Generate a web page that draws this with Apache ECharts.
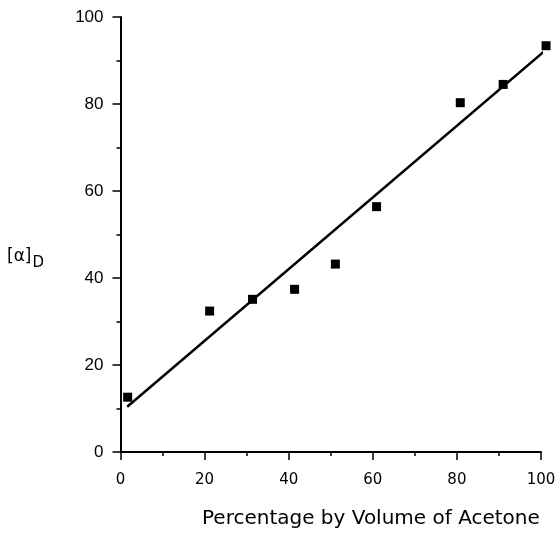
<!DOCTYPE html>
<html>
<head>
<meta charset="utf-8">
<script src="https://cdn.jsdelivr.net/npm/echarts@6/dist/echarts.min.js"></script>
<style>html,body{margin:0;padding:0;background:#fff}#c{width:559px;height:534px}</style>
</head>
<body>
<div id="c"></div>
<script>
const xValues = [1.7, 21.2, 31.4, 41.4, 51.1, 60.9, 80.8, 91.0, 101.2];
const yValues = [12.6, 32.4, 35.1, 37.4, 43.2, 56.4, 80.3, 84.5, 93.4];
const fitX = [1.6, 101.7];
const fitY = [10.4, 92.9];
const xTicks = [0, 20, 40, 60, 80, 100];
const yTicks = [0, 20, 40, 60, 80, 100];
const xTitle = 'Percentage by Volume of Acetone';

const chart = echarts.init(document.getElementById('c'));
const pts = xValues.map((x, i) => [x, yValues[i]]);
const fit = fitX.map((x, i) => [x, fitY[i]]);
const axisCommon = {
  axisLine: {show: true, lineStyle: {color: '#000', width: 2}},
  axisTick: {show: true, length: 8, lineStyle: {color: '#000', width: 1.5}},
  minorTick: {show: true, splitNumber: 2, length: 4, lineStyle: {color: '#000', width: 1.5}},
  splitLine: {show: false},
  minorSplitLine: {show: false}
};
chart.setOption({
  animation: false,
  backgroundColor: '#fff',
  grid: {left: 120.5, right: 18, top: 17, bottom: 82},
  xAxis: Object.assign({
    type: 'value', min: xTicks[0], max: xTicks[xTicks.length - 1], interval: 20,
    axisLabel: {margin: 21, color: '#000', fontSize: 15, fontFamily: 'DejaVu Sans'}
  }, axisCommon),
  yAxis: Object.assign({
    type: 'value', min: yTicks[0], max: yTicks[yTicks.length - 1], interval: 20,
    axisLabel: {margin: 17, color: '#000', fontSize: 17, fontFamily: 'Liberation Sans'}
  }, axisCommon),
  graphic: [
    {type: 'text', left: 202, top: 509,
      style: {text: xTitle, fill: '#000', font: '20px "DejaVu Sans"'}},
    {type: 'text', left: 7, top: 246,
      style: {text: '{a|[α]}{d|D}', fill: '#000',
        rich: {a: {fontSize: 17, fontFamily: 'DejaVu Sans', verticalAlign: 'top', lineHeight: 20},
               d: {fontSize: 15, fontFamily: 'DejaVu Sans', padding: [10, 0, 0, 1], lineHeight: 20}}}}
  ],
  series: [
    {type: 'line', data: fit, symbol: 'none', lineStyle: {color: '#000', width: 2.5}, clip: false, z: 2},
    {type: 'scatter', data: pts, symbol: 'rect', symbolSize: 9, itemStyle: {color: '#000', opacity: 1}, clip: false, z: 3}
  ]
});
</script>
</body>
</html>
